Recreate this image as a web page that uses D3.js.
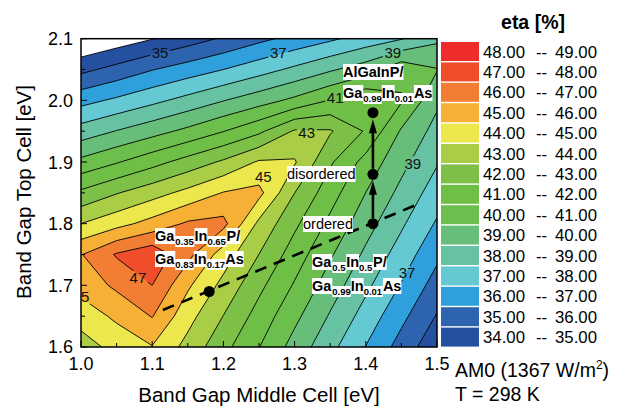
<!DOCTYPE html>
<html>
<head>
<meta charset="utf-8">
<script src="https://cdn.jsdelivr.net/npm/d3@7"></script>
<style>
  body { margin: 0; background: #fff; }
  svg { font-family: "Liberation Sans", Arial, Helvetica, sans-serif; }
</style>
</head>
<body>
<svg id="chart" width="622" height="407"></svg>
<script>
// grid of the map: middle cell gap (x) and top cell gap (y), eV
var xGrid = [1.00, 1.05, 1.10, 1.15, 1.20, 1.25, 1.30, 1.35, 1.40, 1.45, 1.50];
var yGrid = [1.60, 1.65, 1.70, 1.75, 1.80, 1.85, 1.90, 1.95, 2.00, 2.05, 2.10];

// efficiency eta [%], one row per top cell gap (yGrid), columns follow xGrid
var eta = [
  [43.50, 44.36, 44.95, 43.67, 42.30, 41.03, 39.62, 38.29, 36.97, 35.60, 34.27], // 1.60
  [44.45, 45.19, 46.05, 44.35, 42.98, 41.61, 40.25, 38.90, 37.60, 36.26, 34.93], // 1.65
  [45.37, 46.20, 47.00, 45.16, 43.71, 42.25, 40.90, 39.51, 38.22, 36.93, 35.57], // 1.70
  [45.95, 47.10, 47.70, 46.30, 44.51, 42.99, 41.52, 40.12, 38.81, 37.55, 36.22], // 1.75
  [44.00, 44.66, 45.36, 46.15, 46.30, 43.76, 42.20, 40.77, 39.40, 38.15, 36.88], // 1.80
  [42.20, 42.94, 43.60, 44.29, 45.05, 45.30, 43.01, 41.42, 39.99, 38.73, 37.50], // 1.85
  [40.27, 40.92, 41.64, 42.40, 43.16, 44.12, 44.10, 42.14, 40.64, 39.30, 38.09], // 1.90
  [38.44, 39.04, 39.62, 40.25, 40.97, 41.79, 43.12, 43.10, 41.90, 39.88, 38.65], // 1.95
  [36.66, 37.18, 37.74, 38.33, 38.96, 39.57, 40.23, 41.04, 41.90, 41.10, 39.20], // 2.00
  [34.74, 35.33, 35.96, 36.48, 37.00, 37.59, 38.21, 38.87, 39.51, 40.70, 40.05], // 2.05
  [32.90, 33.42, 33.96, 34.53, 35.13, 35.75, 36.31, 36.83, 37.42, 37.94, 38.80]  // 2.10
];

// contour levels and band colours (band i = levels[i] .. levels[i]+1)
var levels = [34, 35, 36, 37, 38, 39, 40, 41, 42, 43, 44, 45, 46, 47, 48];
var bandColors = ["#2550a0", "#2e64af", "#2fa0dc", "#65c9d4", "#66c2a2", "#67be7a",
                  "#6cbf4c", "#6fbe45", "#7cc047", "#a9cd46", "#ebe74c", "#f6b036",
                  "#f27e34", "#f04e2b", "#ee2c2c"];

var xTicks = [1.0, 1.1, 1.2, 1.3, 1.4, 1.5];
var yTicks = [1.6, 1.7, 1.8, 1.9, 2.0, 2.1];

// labels sitting on the contour lines
var labelText = ["35", "37", "39", "41", "43", "45", "47", "45", "39", "37"];
var labelX = [1.111, 1.277, 1.438, 1.357, 1.317, 1.256, 1.080, 1.000, 1.466, 1.458];
var labelY = [2.078, 2.078, 2.078, 2.005, 1.947, 1.877, 1.712, 1.681, 1.898, 1.720];

// material points and paths
var dashLine = [[1.115, 1.660], [1.470, 1.830]];
var dots = [[1.18, 1.69], [1.41, 1.80], [1.41, 1.88], [1.41, 1.98]];
var arrows = [[1.41, 1.80, 1.41, 1.88], [1.41, 1.88, 1.41, 1.98]];

var svg = d3.select("#chart");
var x = d3.scaleLinear().domain([1.0, 1.5]).range([81, 437]);
var y = d3.scaleLinear().domain([1.6, 2.1]).range([347, 38.7]);
var pw = x(1.5) - x(1.0), ph = y(1.6) - y(2.1);

var defs = svg.append("defs");
defs.append("clipPath").attr("id", "plotClip")
  .append("rect").attr("x", x(1.0)).attr("y", y(2.1)).attr("width", pw).attr("height", ph);

// contour fills
var nx = xGrid.length, ny = yGrid.length;
var flat = [];
eta.forEach(function(row) { row.forEach(function(v) { flat.push(v); }); });
var contours = d3.contours().size([nx, ny]).thresholds(levels)(flat);

var gx = d3.scaleLinear().domain([0.5, nx - 0.5]).range([x(xGrid[0]), x(xGrid[nx - 1])]);
var gy = d3.scaleLinear().domain([0.5, ny - 0.5]).range([y(yGrid[0]), y(yGrid[ny - 1])]);
var path = d3.geoPath(d3.geoTransform({
  point: function(px, py) { this.stream.point(gx(px), gy(py)); }
}));

var plot = svg.append("g").attr("clip-path", "url(#plotClip)");
plot.append("g").selectAll("path")
  .data(contours)
  .enter().append("path")
    .attr("d", path)
    .attr("fill", function(d) { return bandColors[levels.indexOf(d.value)]; });

// mask to break the lines under the contour labels
var mask = defs.append("mask").attr("id", "lblMask");
mask.append("rect").attr("width", 622).attr("height", 407).attr("fill", "#fff");
for (var i = 0; i < labelText.length; i++) {
  mask.append("rect")
    .attr("x", x(labelX[i]) - 10).attr("y", y(labelY[i]) - 7)
    .attr("width", 20).attr("height", 14).attr("fill", "#000");
}

plot.append("g").attr("mask", "url(#lblMask)").selectAll("path")
  .data(contours)
  .enter().append("path")
    .attr("d", path)
    .attr("fill", "none")
    .attr("stroke", "#000")
    .attr("stroke-width", 0.9);

plot.append("g").selectAll("text")
  .data(labelText)
  .enter().append("text")
    .attr("x", function(d, i) { return x(labelX[i]); })
    .attr("y", function(d, i) { return y(labelY[i]); })
    .attr("dy", "0.36em")
    .attr("text-anchor", "middle")
    .attr("font-size", 15)
    .attr("fill", "#111")
    .text(function(d) { return d; });

// dashed line, arrows and dots
plot.append("line")
  .attr("x1", x(dashLine[0][0])).attr("y1", y(dashLine[0][1]))
  .attr("x2", x(dashLine[1][0])).attr("y2", y(dashLine[1][1]))
  .attr("stroke", "#000").attr("stroke-width", 2.6)
  .attr("stroke-dasharray", "12,8");

var r = 5.5;
arrows.forEach(function(a) {
  var ax = x(a[0]), y0 = y(a[1]) - r, y1 = y(a[3]) + r + 1;
  plot.append("line")
    .attr("x1", ax).attr("y1", y0).attr("x2", ax).attr("y2", y1 + 10)
    .attr("stroke", "#000").attr("stroke-width", 2.6);
  plot.append("path")
    .attr("d", "M" + ax + "," + y1 + "L" + (ax - 4) + "," + (y1 + 14) + "L" + (ax + 4) + "," + (y1 + 14) + "Z")
    .attr("fill", "#000");
});

plot.append("g").selectAll("circle")
  .data(dots)
  .enter().append("circle")
    .attr("cx", function(d) { return x(d[0]); })
    .attr("cy", function(d) { return y(d[1]); })
    .attr("r", r)
    .attr("fill", "#000");

// text boxes with white background
function boxText(parts, x0, base) {
  var g = svg.append("g");
  var bg = g.append("g"), fg = g.append("g");
  var cx = x0;
  parts.forEach(function(p) {
    var sub = p[1];
    var t = fg.append("text")
      .attr("x", cx).attr("y", base + (sub ? 4 : 0))
      .attr("font-size", p[2] || (sub ? 9.5 : 14.5))
      .attr("font-weight", p[3] || "bold")
      .attr("fill", "#000")
      .text(p[0]);
    var b = t.node().getBBox();
    bg.append("rect")
      .attr("x", b.x).attr("y", b.y).attr("width", b.width).attr("height", b.height)
      .attr("fill", "#fff");
    cx += b.width;
  });
}

boxText([["ordered", false, 14.5, "normal"]], 303, 229);
boxText([["disordered", false, 14.5, "normal"]], 287, 179);
boxText([["AlGaInP/", false]], 343, 77);
boxText([["Ga", false], ["0.99", true], ["In", false], ["0.01", true], ["As", false]], 343, 98);
boxText([["Ga", false], ["0.35", true], ["In", false], ["0.65", true], ["P/", false]], 155, 241);
boxText([["Ga", false], ["0.83", true], ["In", false], ["0.17", true], ["As", false]], 155, 264);
boxText([["Ga", false], ["0.5", true], ["In", false], ["0.5", true], ["P/", false]], 312, 267);
boxText([["Ga", false], ["0.99", true], ["In", false], ["0.01", true], ["As", false]], 312, 291);

// ticks (inside) and frame
var minor = d3.range(1.0, 1.5001, 0.05);
svg.append("g").selectAll("line")
  .data(minor)
  .enter().append("line")
    .attr("x1", function(d) { return x(d); }).attr("x2", function(d) { return x(d); })
    .attr("y1", y(1.6)).attr("y2", function(d, i) { return y(1.6) - (i % 2 ? 4 : 6); })
    .attr("stroke", "#000").attr("stroke-width", 1);
var minorY = d3.range(1.6, 2.1001, 0.05);
svg.append("g").selectAll("line")
  .data(minorY)
  .enter().append("line")
    .attr("y1", function(d) { return y(d); }).attr("y2", function(d) { return y(d); })
    .attr("x1", x(1.0)).attr("x2", function(d, i) { return x(1.0) + (i % 2 ? 4 : 6); })
    .attr("stroke", "#000").attr("stroke-width", 1);

svg.append("rect")
  .attr("x", x(1.0)).attr("y", y(2.1)).attr("width", pw).attr("height", ph)
  .attr("fill", "none").attr("stroke", "#000").attr("stroke-width", 1.5);

svg.append("g").selectAll("text")
  .data(xTicks)
  .enter().append("text")
    .attr("x", function(d) { return x(d); })
    .attr("y", 370)
    .attr("text-anchor", "middle")
    .attr("font-size", 18)
    .text(function(d) { return d.toFixed(1); });

svg.append("g").selectAll("text")
  .data(yTicks)
  .enter().append("text")
    .attr("x", 73)
    .attr("y", function(d) { return y(d); })
    .attr("dy", "0.36em")
    .attr("text-anchor", "end")
    .attr("font-size", 18)
    .text(function(d) { return d.toFixed(1); });

svg.append("text")
  .attr("x", 259).attr("y", 402)
  .attr("text-anchor", "middle")
  .attr("font-size", 20.5)
  .text("Band Gap Middle Cell [eV]");

svg.append("text")
  .attr("transform", "translate(31,192) rotate(-90)")
  .attr("text-anchor", "middle")
  .attr("font-size", 20.5)
  .text("Band Gap Top Cell [eV]");

// legend
svg.append("text")
  .attr("x", 533).attr("y", 29)
  .attr("text-anchor", "middle")
  .attr("font-size", 19.5)
  .attr("font-weight", "bold")
  .text("eta [%]");

var legendRows = levels.slice().reverse();
var leg = svg.append("g").selectAll("g")
  .data(legendRows)
  .enter().append("g")
    .attr("transform", function(d, i) { return "translate(441," + (42 + i * 20.4) + ")"; });

leg.append("rect")
  .attr("width", 38).attr("height", 19)
  .attr("fill", function(d) { return bandColors[levels.indexOf(d)]; });
leg.append("text")
  .attr("x", 42).attr("y", 9.5).attr("dy", "0.36em")
  .attr("font-size", 16.8)
  .text(function(d) { return d.toFixed(2); });
leg.append("text")
  .attr("x", 95).attr("y", 9.5).attr("dy", "0.36em")
  .attr("font-size", 16.8)
  .text("--");
leg.append("text")
  .attr("x", 114).attr("y", 9.5).attr("dy", "0.36em")
  .attr("font-size", 16.8)
  .text(function(d) { return (d + 1).toFixed(2); });

var am = svg.append("text").attr("x", 455).attr("y", 377).attr("font-size", 19.5);
am.append("tspan").text("AM0 (1367 W/m");
am.append("tspan").attr("dy", -8).attr("font-size", 12).text("2");
am.append("tspan").attr("dy", 8).text(")");
svg.append("text").attr("x", 455).attr("y", 401).attr("font-size", 19.5).text("T = 298 K");
</script>
</body>
</html>
